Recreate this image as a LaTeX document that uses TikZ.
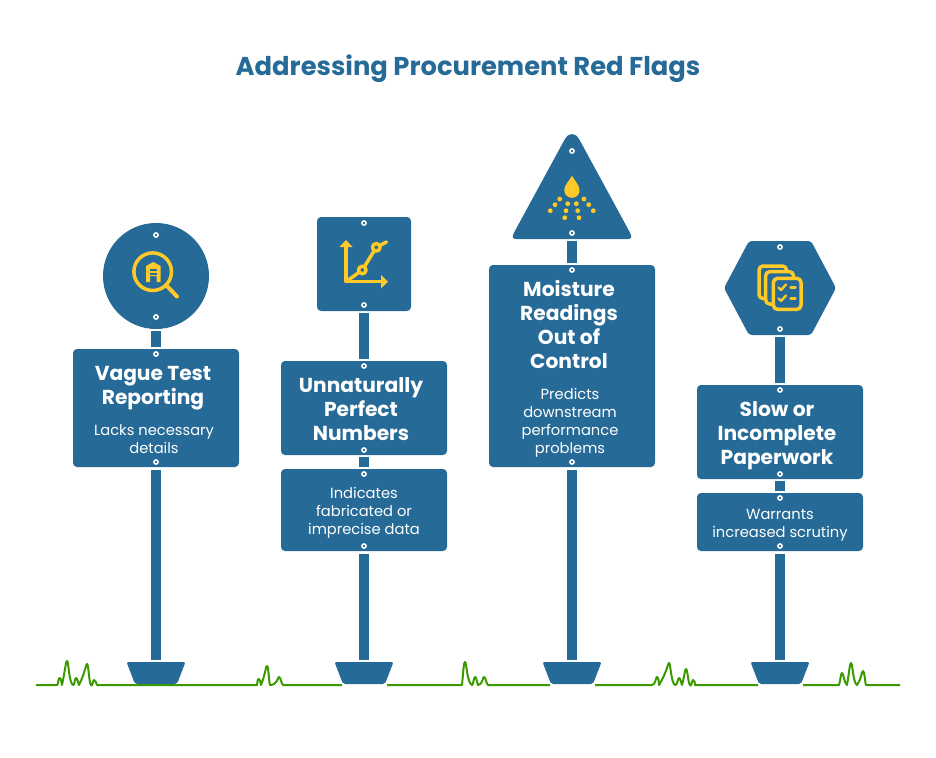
\documentclass[tikz,border=0pt]{standalone}
\usepackage{fontspec}
\setmainfont{Poppins}
\definecolor{signblue}{HTML}{266A97}
\definecolor{iconyellow}{HTML}{FFCA28}
\definecolor{grassgreen}{HTML}{3A9A00}
\newcommand{\blade}[3]{.. controls (#1-1.6,#2+8) and (#1-1.2,#2) .. (#1,#2) .. controls (#1+1.6,#2) and (#1+2,683) .. (#3,685)}
\tikzset{
  signbox/.style={fill=signblue,draw=none,rounded corners=4pt},
  posttube/.style={fill=signblue,draw=none},
  headtext/.style={text=white,align=center,font=\fontsize{20.2}{24}\selectfont\bfseries,inner sep=0pt},
  subtext/.style={text=white,align=center,font=\fontsize{14.7}{18}\selectfont,inner sep=0pt},
  iconline/.style={draw=iconyellow,line width=3.5pt,line cap=round,line join=round},
  grassline/.style={draw=grassgreen,line width=2pt,line join=round},
}
\begin{document}
\begin{tikzpicture}[x=1pt,y=-1pt]
\useasboundingbox (0,0) rectangle (936,757);
\node[text=signblue,font=\fontsize{25.8}{30}\selectfont\bfseries,inner sep=0pt] (title) at (468,69) {Addressing Procurement Red Flags};
% ground
\draw[grassline] (36,685)--(57,685) \blade{59.5}{678}{62} \blade{67}{661}{73} \blade{76}{678}{79} \blade{87}{664}{91} \blade{94}{680}{97}
  --(257,685) \blade{258.5}{679}{261} \blade{267}{666}{270} \blade{279}{677}{283} --(342,685);
\draw[grassline] (387,685)--(462,685) \blade{465}{662}{472} \blade{475}{677}{478} \blade{484}{677}{488} --(550,685);
\draw[grassline] (595,685)--(652,685) \blade{657}{677}{659} \blade{669}{663}{675} \blade{679}{678}{682} \blade{686}{669}{690} \blade{693}{680}{695} --(758,685);
\draw[grassline] (803,685)--(839,685) \blade{842}{673}{847} \blade{851}{663}{857} \blade{863}{671}{866} --(900,685);
% posts and bases
\foreach \x in {156,364,572,780}
{
\draw[posttube] (\x-5,554) rectangle (\x+5,660);
\draw[signbox,rounded corners=2pt] (\x-29.5,662)--(\x+29.5,662)--(\x+21,684)--(\x-21,684)--cycle;
}
\foreach \x/\a/\b in {156/331/347,156/470/554,364/313/359,364/457/467,572/241/263,572/470/554,780/337/383,780/481/491}
{
\draw[posttube] (\x-5,\a) rectangle (\x+5,\b);
}
% sign heads
\fill[signblue] (156,276) circle (53);
\draw[signbox] (317,217) rectangle (411,311);
\fill[signblue] (563.3,142) .. controls (567,135) and (569,134) .. (572,134) .. controls (575,134) and (577,135) .. (580.7,142)
  --(629.1,231) .. controls (632.5,237) and (632,239) .. (627.5,239)--(516.5,239) .. controls (512,239) and (511.5,237) .. (514.9,231)--cycle;
\draw[signbox,rounded corners=3pt] (749,241)--(811,241)--(836,288)--(811,335)--(749,335)--(724,288)--cycle;
% panels
\draw[signbox] (73,349) rectangle (239,467);
\draw[signbox] (281,361) rectangle (447,455);
\draw[signbox] (281,469) rectangle (447,551);
\draw[signbox] (489,265) rectangle (655,467);
\draw[signbox] (697,385) rectangle (863,479);
\draw[signbox] (697,493) rectangle (863,551);
% rivets
\foreach \x/\y in {156/235,156/317,156/354,156/462,364/223,364/305,364/366,364/450,364/474,364/546,572/151,572/233,572/270,572/462,780/247,780/329,780/390,780/474,780/498,780/546}
{
\filldraw[draw=white,fill=signblue,line width=1.5pt] (\x,\y) circle (2.1);
}
% panel text
\node[headtext] (vague) at (153,388) {Vague Test\\Reporting};
\node[subtext] (lacks) at (154,439) {Lacks necessary\\details};
\node[headtext] (perfect) at (361,409) {Unnaturally\\Perfect\\Numbers};
\node[subtext] (fabricated) at (364,513) {Indicates\\fabricated or\\imprecise data};
\node[headtext] (moisture) at (569,324) {Moisture\\Readings\\Out of\\Control};
\node[subtext] (predicts) at (570,423) {Predicts\\downstream\\performance\\problems};
\node[headtext] (slow) at (777,436) {Slow or\\Incomplete\\Paperwork};
\node[subtext] (warrants) at (780,525) {Warrants\\increased scrutiny};
% magnifier icon
\draw[iconline] (152.7,271.7) circle (18.8);
\draw[iconline,line width=4pt] (166,285)--(177,296.5);
\fill[iconyellow] (146,266)--(153.3,262)--(160.7,266)--(160.7,282)--(156.5,282)--(156.5,276)--(150.2,276)--(150.2,282)--(146,282)--cycle;
\fill[signblue] (149.5,269) rectangle (157.2,271);
\fill[signblue] (149.5,273) rectangle (157.2,274.5);
% chart icon
\draw[iconline,line cap=butt] (346,281.7)--(346,246);
\draw[iconline,line cap=butt] (346,281.7)--(382,281.7);
\fill[iconyellow] (346,240)--(352.5,247)--(339.5,247)--cycle;
\fill[iconyellow] (388,281.7)--(381,275)--(381,288.4)--cycle;
\draw[iconline] (346,281.7)--(362.3,270)--(376.3,247.3)--(386.5,242);
\filldraw[iconline,fill=signblue] (362.3,270) circle (3.8);
\filldraw[iconline,fill=signblue] (376.3,247.3) circle (3.8);
% droplet icon
\fill[iconyellow] (572,175.7) .. controls (574,180) and (579.5,185) .. (579.5,190) .. controls (579.5,195) and (576,197.8) .. (572,197.8) .. controls (568,197.8) and (564.3,195) .. (564.3,190) .. controls (564.3,185) and (570,180) .. (572,175.7)--cycle;
\foreach \x/\y in {559.7/199,584/199,555/204.7,567.7/203.7,576.3/203.7,588.7/204.7,550.3/210.7,566/210.7,577.7/210.7,593.3/210.7,564.7/217.7,579/217.7}
{
\fill[iconyellow] (\x,\y) circle (2.4);
}
% paperwork icon
\filldraw[iconline,fill=signblue,rounded corners=4pt] (759,266) rectangle (786.5,298.5);
\filldraw[iconline,fill=signblue,rounded corners=4pt] (765.7,271.7) rectangle (793.5,304);
\filldraw[iconline,fill=signblue,rounded corners=4pt] (773.4,278.4) rectangle (801,309.3);
\foreach \y in {287.5,298.5}
{
\draw[iconline,line width=2.4pt] (778.5,\y)--(781,\y+2.5)--(786,\y-3);
\draw[iconline,line width=2.4pt] (790.5,\y)--(795.5,\y);
}
\end{tikzpicture}
\end{document}
